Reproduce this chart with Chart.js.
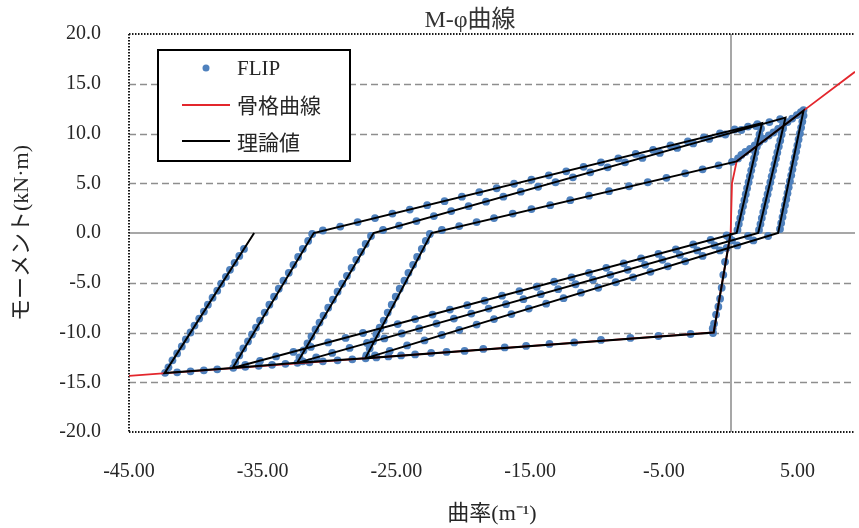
<!DOCTYPE html>
<html><head><meta charset="utf-8">
<script src="https://cdn.jsdelivr.net/npm/chart.js@4.4.1/dist/chart.umd.min.js"></script>
<style>html,body{margin:0;padding:0;background:#fff;}#wrap{width:859px;height:528px;}</style>
</head><body><div id="wrap"><canvas id="c" width="859" height="528"></canvas></div>
<script>
const chartTitle = 'M-φ曲線';
const xAxisTitle = '曲率(m⁻¹)';
const yAxisTitle = 'モーメント(kN·m)';
const seriesNames = ['FLIP', '骨格曲線', '理論値'];
const xTicks = [-45, -35, -25, -15, -5, 5];
const yTicks = [-20, -15, -10, -5, 0, 5, 10, 15, 20];

// 骨格曲線 (skeleton curve)
const skeletonPhi = [-45, -1.27, 0, 0.1, 0.45, 5.45, 9.3];
const skeletonM   = [-14.36, -10.0, 0, 5.0, 7.2, 12.3, 16.2];

// 理論値 (theoretical path)
const theoryPhi = [0, -1.27, -27.33, -22.37, 0.45, 5.45, 3.55, -27.33, -32.42, -26.71, 4.1, 2.06, -32.42, -37.25, -31.18, 2.35, 0.45, -37.25, -42.34, -35.64];
const theoryM   = [0, -10.0, -12.6, 0, 7.2, 12.3, 0, -12.6, -13.05, 0, 11.6, 0, -13.05, -13.57, 0, 11.05, 0, -13.57, -14.08, 0];

// FLIP points [phi, M], branch by branch
const flipB1 = [[-0.1,-0.5],[-0.3,-1.5],[-0.42,-2.9],[-0.55,-4.2],[-0.67,-5.5],[-0.79,-6.6],[-0.92,-7.4],[-1.09,-8.2],[-1.24,-9.1],[-1.34,-9.6],[-1.32,-10.05]];
const flipB2 = [[-3.0,-10.15],[-5.4,-10.35],[-7.5,-10.55],[-9.7,-10.75],[-11.7,-11.0],[-13.55,-11.15],[-15.3,-11.35],[-16.9,-11.5],[-18.5,-11.65],[-19.9,-11.85],[-21.25,-11.95],[-22.4,-12.05],[-23.6,-12.2],[-24.65,-12.3],[-25.6,-12.4],[-26.5,-12.5],[-27.3,-12.6]];
const flipB3 = [[-27.25,-12.3],[-27.0,-11.6],[-26.75,-10.9],[-26.5,-10.2],[-26.25,-9.5],[-25.95,-8.8],[-25.65,-8.0],[-25.35,-7.2],[-25.05,-6.4],[-24.75,-5.6],[-24.4,-4.8],[-24.1,-4.0],[-23.75,-3.2],[-23.45,-2.4],[-23.1,-1.6],[-22.8,-0.8],[-22.5,-0.1]];
const flipB4 = [[-21.6,0.3],[-20.3,0.7],[-19.0,1.1],[-17.7,1.5],[-16.3,1.95],[-14.9,2.4],[-13.5,2.8],[-12.0,3.3],[-10.6,3.75],[-9.1,4.2],[-7.6,4.7],[-6.2,5.1],[-4.8,5.55],[-3.4,6.0],[-2.1,6.4],[-0.9,6.8],[0.1,7.15]];
const flipB5 = [[0.55,7.5],[0.8,7.85],[1.1,8.15],[1.45,8.45],[1.8,8.8],[2.15,9.15],[2.5,9.45],[2.85,9.8],[3.2,10.1],[3.55,10.45],[3.9,10.8],[4.25,11.15],[4.6,11.5],[4.95,11.85],[5.25,12.15],[5.45,12.35]];
const flipB6 = [[5.45,11.8],[5.36,11.2],[5.27,10.6],[5.18,10.0],[5.08,9.4],[4.99,8.8],[4.9,8.2],[4.8,7.6],[4.71,7.0],[4.62,6.4],[4.53,5.8],[4.43,5.2],[4.34,4.6],[4.25,4.0],[4.16,3.4],[4.06,2.8],[3.97,2.2],[3.88,1.6],[3.78,1.0],[3.69,0.4]];
const flipB7 = [[2.8,-0.3],[1.7,-0.75],[0.5,-1.25],[-0.8,-1.75],[-2.1,-2.3],[-3.4,-2.85],[-4.7,-3.35],[-6.0,-3.9],[-7.3,-4.45],[-8.6,-4.95],[-9.9,-5.5],[-11.2,-6.0],[-12.5,-6.55],[-13.8,-7.1],[-15.1,-7.6],[-16.4,-8.15],[-17.7,-8.65],[-19.0,-9.2],[-20.3,-9.75],[-21.6,-10.25],[-22.9,-10.8],[-24.2,-11.3],[-25.5,-11.85],[-26.6,-12.3],[-28.3,-12.7],[-29.4,-12.8],[-30.5,-12.9],[-31.5,-13.0],[-32.4,-13.05]];
const flipB8 = [[-32.25,-12.5],[-31.95,-11.8],[-31.65,-11.1],[-31.35,-10.4],[-31.05,-9.7],[-30.75,-9.0],[-30.45,-8.3],[-30.1,-7.5],[-29.75,-6.7],[-29.4,-5.9],[-29.05,-5.1],[-28.7,-4.3],[-28.35,-3.5],[-28.0,-2.7],[-27.65,-1.9],[-27.3,-1.1],[-26.9,-0.3]];
const flipB9 = [[-26.0,0.3],[-24.8,0.75],[-23.5,1.2],[-22.2,1.7],[-20.9,2.2],[-19.6,2.7],[-18.3,3.15],[-17.0,3.65],[-15.7,4.15],[-14.4,4.65],[-13.1,5.1],[-11.8,5.6],[-10.5,6.1],[-9.2,6.6],[-7.9,7.1],[-6.6,7.55],[-5.3,8.05],[-4.0,8.55],[-2.8,9.0],[-1.6,9.45],[-0.4,9.9],[0.8,10.35],[1.9,10.75],[2.9,11.15],[3.7,11.45]];
const flipB10 = [[4.02,11.1],[3.92,10.5],[3.81,9.9],[3.71,9.3],[3.6,8.7],[3.49,8.1],[3.39,7.5],[3.28,6.9],[3.18,6.3],[3.07,5.7],[2.97,5.1],[2.86,4.5],[2.76,3.9],[2.65,3.3],[2.54,2.7],[2.44,2.1],[2.33,1.5],[2.23,0.9],[2.12,0.3]];
const flipB11 = [[1.3,-0.3],[0.1,-0.75],[-1.2,-1.25],[-2.5,-1.75],[-3.8,-2.2],[-5.1,-2.7],[-6.4,-3.2],[-7.7,-3.7],[-9.0,-4.2],[-10.3,-4.7],[-11.6,-5.15],[-12.9,-5.65],[-14.2,-6.15],[-15.5,-6.65],[-16.8,-7.15],[-18.1,-7.6],[-19.4,-8.1],[-20.7,-8.6],[-22.0,-9.1],[-23.3,-9.6],[-24.6,-10.1],[-25.9,-10.6],[-27.2,-11.05],[-28.5,-11.55],[-29.8,-12.05],[-31.0,-12.5],[-32.0,-12.9],[-33.3,-13.15],[-34.3,-13.25],[-35.3,-13.35],[-36.3,-13.45],[-37.2,-13.55]];
const flipB12 = [[-37.05,-13.0],[-36.75,-12.3],[-36.45,-11.6],[-36.1,-10.9],[-35.8,-10.2],[-35.5,-9.5],[-35.2,-8.8],[-34.85,-8.0],[-34.5,-7.2],[-34.15,-6.4],[-33.8,-5.6],[-33.45,-4.8],[-33.05,-4.0],[-32.7,-3.2],[-32.35,-2.4],[-32.0,-1.6],[-31.6,-0.8],[-31.3,-0.1]];
const flipB13 = [[-30.5,0.25],[-29.2,0.65],[-27.9,1.1],[-26.6,1.5],[-25.3,1.95],[-24.0,2.35],[-22.7,2.8],[-21.4,3.2],[-20.1,3.65],[-18.8,4.1],[-17.5,4.5],[-16.2,4.95],[-14.9,5.35],[-13.6,5.8],[-12.3,6.2],[-11.0,6.65],[-9.7,7.1],[-8.4,7.5],[-7.1,7.95],[-5.8,8.35],[-4.5,8.8],[-3.2,9.2],[-2.0,9.6],[-0.8,10.0],[0.3,10.4],[1.3,10.7],[2.0,10.95]];
const flipB14 = [[2.27,10.5],[2.16,9.9],[2.06,9.3],[1.96,8.7],[1.85,8.1],[1.75,7.5],[1.65,6.9],[1.54,6.3],[1.44,5.7],[1.34,5.1],[1.23,4.5],[1.13,3.9],[1.03,3.3],[0.92,2.7],[0.82,2.1],[0.72,1.5],[0.61,0.9],[0.51,0.3]];
const flipB15 = [[-0.3,-0.25],[-1.5,-0.7],[-2.8,-1.15],[-4.1,-1.65],[-5.4,-2.1],[-6.7,-2.55],[-8.0,-3.05],[-9.3,-3.5],[-10.6,-4.0],[-11.9,-4.45],[-13.2,-4.9],[-14.5,-5.4],[-15.8,-5.85],[-17.1,-6.3],[-18.4,-6.8],[-19.7,-7.25],[-21.0,-7.7],[-22.3,-8.2],[-23.6,-8.65],[-24.9,-9.15],[-26.2,-9.6],[-27.5,-10.05],[-28.8,-10.55],[-30.1,-11.0],[-31.4,-11.45],[-32.7,-11.95],[-34.0,-12.4],[-35.2,-12.85],[-36.3,-13.25],[-38.4,-13.7],[-39.4,-13.8],[-40.4,-13.9],[-41.4,-14.0],[-42.3,-14.05]];
const flipB16 = [[-42.05,-13.5],[-41.75,-12.8],[-41.4,-12.1],[-41.05,-11.4],[-40.75,-10.7],[-40.4,-10.0],[-40.1,-9.3],[-39.75,-8.6],[-39.4,-7.9],[-39.1,-7.2],[-38.75,-6.5],[-38.4,-5.8],[-38.1,-5.1],[-37.75,-4.4],[-37.45,-3.7],[-37.1,-3.0],[-36.75,-2.3],[-36.4,-1.6]];

const flipBranches = [flipB1, flipB2, flipB3, flipB4, flipB5, flipB6, flipB7, flipB8, flipB9, flipB10, flipB11, flipB12, flipB13, flipB14, flipB15, flipB16];

const SERIF = '"Liberation Serif", "Noto Sans CJK JP", serif';
const BLUE = '#4f81bd';
const RED = '#e3262c';
const TXT = '#262626';

const flipData = [].concat(...flipBranches).map(p => ({x: p[0], y: p[1]}));
const skeletonData = skeletonPhi.map((v, i) => ({x: v, y: skeletonM[i]}));
const theoryData = theoryPhi.map((v, i) => ({x: v, y: theoryM[i]}));

const framePlugin = {
  id: 'frame',
  beforeDatasetsDraw(chart) {
    const {ctx, chartArea: {left, right, top, bottom}, scales: {x, y}} = chart;
    ctx.save();
    const hline = (py) => { ctx.beginPath(); ctx.moveTo(left, py); ctx.lineTo(right, py); ctx.stroke(); };
    ctx.strokeStyle = '#8e8e8e'; ctx.lineWidth = 1.4; ctx.setLineDash([7, 4]);
    yTicks.forEach(v => { if (v !== 0 && v !== 20 && v !== -20) hline(Math.round(y.getPixelForValue(v)) + 0.5); });
    ctx.setLineDash([]); ctx.strokeStyle = '#8a8a8a'; ctx.lineWidth = 1.5;
    hline(Math.round(y.getPixelForValue(0)));
    const px0 = Math.round(x.getPixelForValue(0));
    ctx.beginPath(); ctx.moveTo(px0, top); ctx.lineTo(px0, bottom); ctx.stroke();
    ctx.strokeStyle = '#1a1a1a'; ctx.lineWidth = 2; ctx.setLineDash([1.5, 1.5]);
    hline(top); hline(bottom);
    ctx.beginPath(); ctx.moveTo(left, top); ctx.lineTo(left, bottom); ctx.stroke();
    ctx.restore();
  },
  afterDatasetsDraw(chart) {
    const {ctx} = chart;
    ctx.save();
    // title
    ctx.fillStyle = '#333'; ctx.font = '24px ' + SERIF;
    ctx.textAlign = 'center'; ctx.textBaseline = 'middle';
    ctx.fillText(chartTitle, 470, 21);
    // legend
    ctx.fillStyle = '#fff'; ctx.fillRect(158, 50, 192, 111);
    ctx.strokeStyle = '#000'; ctx.lineWidth = 2; ctx.strokeRect(158, 50, 192, 111);
    ctx.fillStyle = BLUE; ctx.beginPath(); ctx.arc(206, 68, 3.5, 0, Math.PI * 2); ctx.fill();
    ctx.strokeStyle = RED; ctx.lineWidth = 2; ctx.beginPath(); ctx.moveTo(182, 105); ctx.lineTo(230, 105); ctx.stroke();
    ctx.strokeStyle = '#000'; ctx.beginPath(); ctx.moveTo(182, 141); ctx.lineTo(230, 141); ctx.stroke();
    ctx.fillStyle = TXT; ctx.font = '21px ' + SERIF; ctx.textAlign = 'left';
    ctx.fillText(seriesNames[0], 237, 69);
    ctx.fillText(seriesNames[1], 237, 107);
    ctx.fillText(seriesNames[2], 237, 144);
    ctx.restore();
  }
};

new Chart(document.getElementById('c'), {
  type: 'scatter',
  data: {
    datasets: [
      {label: seriesNames[2], data: theoryData, showLine: true, borderColor: '#000', borderWidth: 2, pointRadius: 0, tension: 0, fill: false, order: 1},
      {label: seriesNames[1], data: skeletonData, showLine: true, borderColor: RED, borderWidth: 1.8, pointRadius: 0, tension: 0, fill: false, order: 2},
      {label: seriesNames[0], data: flipData, showLine: false, pointRadius: 3.9, pointBackgroundColor: BLUE, pointBorderWidth: 0, backgroundColor: BLUE, borderColor: BLUE, order: 3}
    ]
  },
  options: {
    responsive: false, animation: false, devicePixelRatio: 1,
    layout: {padding: {top: 34, right: 0, left: 0, bottom: 0}},
    plugins: {legend: {display: false}, tooltip: {enabled: false}, title: {display: false}},
    scales: {
      x: {
        type: 'linear', min: -45, max: 9.3,
        afterBuildTicks: (s) => { s.ticks = xTicks.map(v => ({value: v})); },
        afterFit: (s) => { s.height = 96; s.paddingRight = 0; },
        grid: {display: false, drawTicks: false, tickLength: 0},
        border: {display: false},
        ticks: {autoSkip: false, maxRotation: 0, padding: 28, color: TXT, font: {family: SERIF, size: 20}, callback: (v) => Number(v).toFixed(2)},
        title: {display: true, text: xAxisTitle, color: TXT, font: {family: SERIF, size: 22}, padding: {top: 0, bottom: 1}}
      },
      y: {
        type: 'linear', min: -20, max: 20,
        afterBuildTicks: (s) => { s.ticks = yTicks.map(v => ({value: v})); },
        afterFit: (s) => { s.width = 129; s.paddingTop = 0; s.paddingBottom = 0; },
        grid: {display: false, drawTicks: false, tickLength: 0},
        border: {display: false},
        ticks: {padding: 28, color: TXT, font: {family: SERIF, size: 20}, callback: (v) => Number(v).toFixed(1)},
        title: {display: true, text: yAxisTitle, color: TXT, font: {family: SERIF, size: 22}, padding: {top: 9, bottom: 0}}
      }
    }
  },
  plugins: [framePlugin]
});
</script></body></html>
